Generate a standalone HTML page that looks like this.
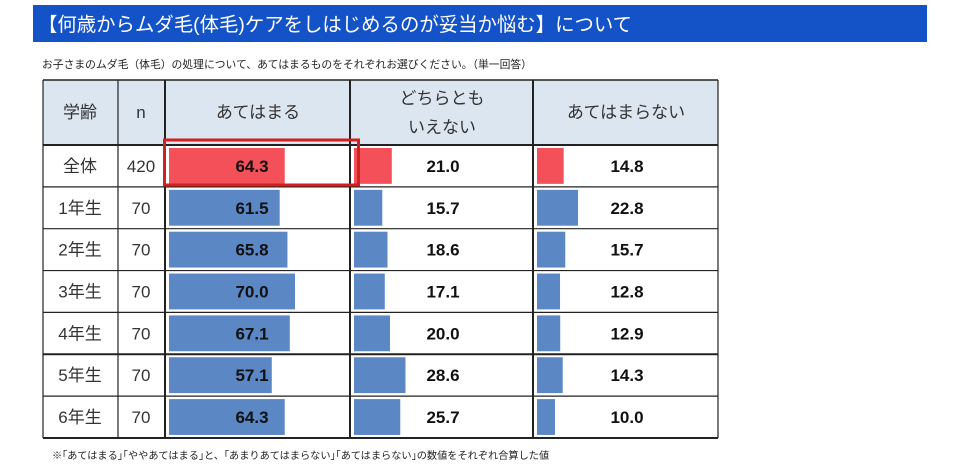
<!DOCTYPE html>
<html><head><meta charset="utf-8">
<style>
body{margin:0;background:#fff;width:960px;height:470px;overflow:hidden;font-family:"Liberation Sans","Noto Sans CJK JP",sans-serif;}
svg text{font-family:"Liberation Sans","Noto Sans CJK JP",sans-serif;}
</style></head>
<body>
<svg id="chart" width="960" height="470">
<rect x="33" y="5" width="894" height="37" fill="#1452c8"/>
<text x="38" y="31" font-size="19.4" fill="#fff">【何歳からムダ毛(体毛)ケアをしはじめるのが妥当か悩む】について</text>
<text x="42" y="68" font-size="10.8" fill="#222">お子さまのムダ毛（体毛）の処理について、あてはまるものをそれぞれお選びください。（単一回答）</text>
<rect x="43" y="80" width="675" height="65" fill="#dce6f1"/>
<text x="80" y="118" font-size="17" fill="#333" text-anchor="middle">学齢</text>
<text x="141" y="118" font-size="17" fill="#333" text-anchor="middle">n</text>
<text x="258" y="118" font-size="17" fill="#333" text-anchor="middle">あてはまる</text>
<text x="442" y="104" font-size="17" fill="#333" text-anchor="middle">どちらとも</text>
<text x="442" y="133" font-size="17" fill="#333" text-anchor="middle">いえない</text>
<text x="626" y="118" font-size="17" fill="#333" text-anchor="middle">あてはまらない</text>
<g id="rows"></g>
<g id="grid"></g>
<rect x="164.5" y="140" width="194" height="45" fill="none" stroke="#d0201f" stroke-width="3"/>
<text x="52" y="459" font-size="10.2" fill="#222">※｢あてはまる｣｢ややあてはまる｣と、｢あまりあてはまらない｣｢あてはまらない｣の数値をそれぞれ合算した値</text>
</svg>
<script>
const categories=["全体","1年生","2年生","3年生","4年生","5年生","6年生"];
const nValues=[420,70,70,70,70,70,70];
const agree=[64.3,61.5,65.8,70.0,67.1,57.1,64.3];
const neutral=[21.0,15.7,18.6,17.1,20.0,28.6,25.7];
const disagree=[14.8,22.8,15.7,12.8,12.9,14.3,10.0];
const NS="http://www.w3.org/2000/svg";
const top0=145,rowH=41.85,pxPerUnit=1.8;
const colStarts=[169,354,537],colCenters=[252,443,627];
const series=[agree,neutral,disagree];
const seriesNames=["agree","neutral","disagree"];
function rowY(i){return top0+i*rowH;}
function barW(v){return v*pxPerUnit;}
function mk(tag,attrs,parent){const e=document.createElementNS(NS,tag);for(const k in attrs)e.setAttribute(k,attrs[k]);parent.appendChild(e);return e;}
const rows=document.getElementById('rows');
categories.forEach((c,i)=>{
  const y=rowY(i);
  let t=mk('text',{x:80,y:y+rowH/2+6,'font-size':17,fill:'#333','text-anchor':'middle'},rows);
  t.textContent=c;
  
  
  t=mk('text',{x:141,y:y+rowH/2+6,'font-size':17,fill:'#333','text-anchor':'middle'},rows);
  t.textContent=nValues[i];
  
  
  series.forEach((s,j)=>{
    const b=mk('rect',{x:colStarts[j],y:y+3,width:barW(s[i]),height:rowH-6,fill:i===0?'#f4505a':'#5b87c5'},rows);
    
    
    const v=mk('text',{x:colCenters[j],y:y+rowH/2+6,'font-size':17,'font-weight':'bold',fill:'#111','text-anchor':'middle'},rows);
    v.textContent=s[i].toFixed(1);
    
    
  });
});
const grid=document.getElementById('grid');
const bottom=rowY(categories.length);
[43,118,165,350,533,718].forEach((x,k)=>{
  const l=mk('line',{x1:x,y1:80,x2:x,y2:bottom,stroke:'#222','stroke-width':(k===2||k===3||k===4)?2:1.2},grid);
  
  
});
for(let i=0;i<=categories.length;i++){
  const y=rowY(i);
  const l=mk('line',{x1:43,y1:y,x2:718,y2:y,stroke:'#222','stroke-width':(i===0||i===5||i===categories.length)?2:1.2},grid);
  
  
}
const tl=mk('line',{x1:43,y1:80,x2:718,y2:80,stroke:'#222','stroke-width':1.5},grid);


</script>
</body></html>
